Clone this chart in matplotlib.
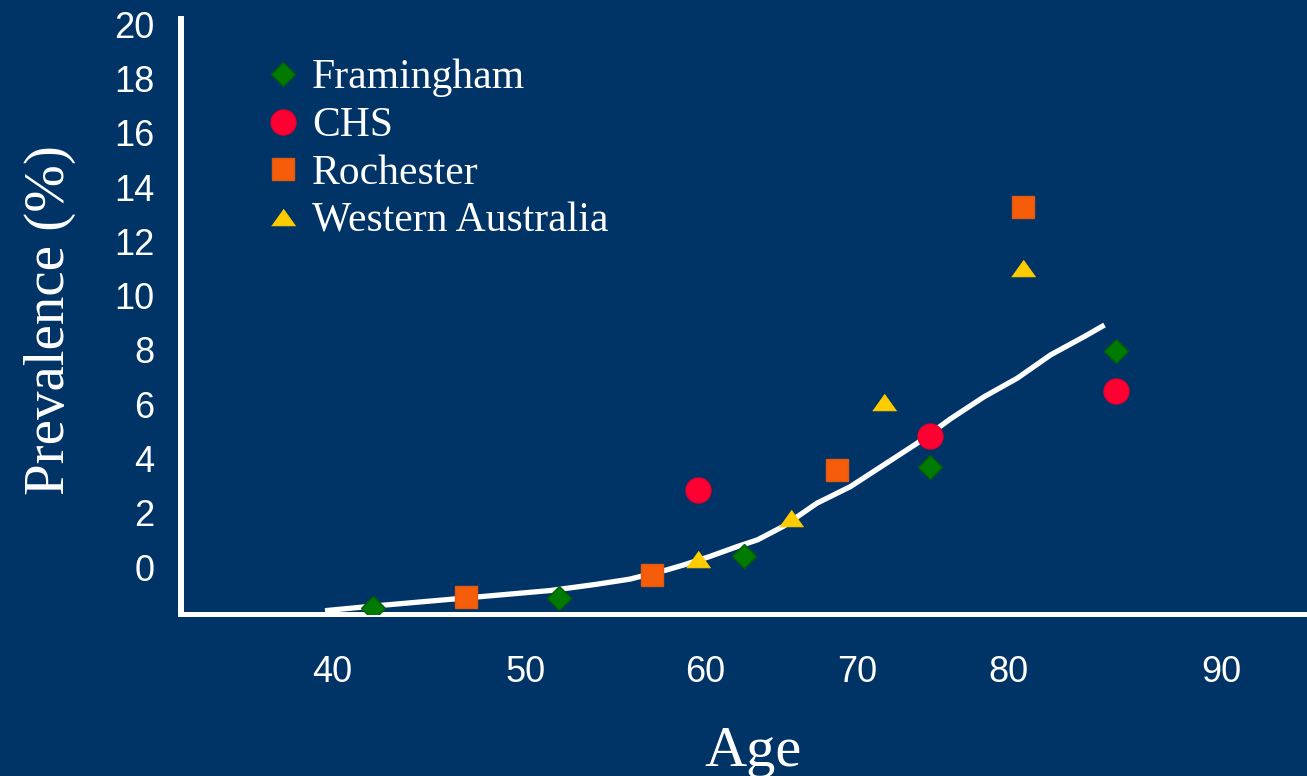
import matplotlib
matplotlib.use("Agg")
import matplotlib.pyplot as plt

# ages / prevalence (%)
fram_age = [42, 52, 62, 72, 82]
fram_prev = [-1.52, -1.13, 0.39, 3.68, 7.95]

chs_age = [59.5, 72, 82]
chs_prev = [2.83, 4.82, 6.5]

roch_age = [47, 57, 67, 77]
roch_prev = [-1.11, -0.29, 3.56, 13.28]

wa_age = [59.5, 64.5, 69.5, 77]
wa_prev = [0.28, 1.79, 6.09, 11.01]

fit_age = [39.4, 42.0, 47.0, 51.5, 54.0, 55.8, 57.8, 58.7, 60.1, 61.6, 62.7,
           64.1, 65.9, 67.7, 69.5, 71.3, 73.1, 74.9, 76.7, 78.5, 80.3, 81.4]
fit_prev = [-1.61, -1.44, -1.14, -0.87, -0.64, -0.45, -0.11, 0.07, 0.38, 0.75, 1.0,
            1.5, 2.35, 2.96, 3.76, 4.56, 5.46, 6.27, 6.96, 7.82, 8.49, 8.92]

# the slide's x labels sit a bit off their true ages
xtick_pos = [39.8, 50.2, 59.9, 68.1, 76.2, 87.7]
xtick_labels = ["40", "50", "60", "70", "80", "90"]
ytick_vals = list(range(0, 21, 2))

BG = "#003366"
tri = [(-1, -0.7), (1, -0.7), (0, 0.7)]

fig = plt.figure(figsize=(13.07, 7.76), dpi=100, facecolor=BG)
ax = fig.add_axes([181 / 1307, 1 - 613.5 / 776, 1 - 181 / 1307, 594.5 / 776])
ax.set_facecolor(BG)

ax.plot(fit_age, fit_prev, color="white", lw=3.8, zorder=2, solid_capstyle="butt")

ax.plot(fram_age, fram_prev, ls="none", marker="D", ms=12.5, color="#007a00",
        mec="#006000", mew=1, zorder=3, label="Framingham")
ax.plot(chs_age, chs_prev, ls="none", marker="o", ms=18, color="#ff0033",
        mec="#e8002e", mew=1, zorder=3, label="CHS")
ax.plot(roch_age, roch_prev, ls="none", marker="s", ms=16, color="#f55d0a",
        mec="#e05a10", mew=1, zorder=3, label="Rochester")
ax.plot(wa_age, wa_prev, ls="none", marker=tri, ms=17.3, color="#ffcc00",
        mec="#ffcc00", mew=0.5, zorder=3, label="Western Australia")

ax.set_xlim(31.64, 92.31)
ax.set_ylim(-1.714, 20.2)

ax.set_xticks(xtick_pos)
ax.set_xticklabels(xtick_labels)
ax.set_yticks(ytick_vals)
ax.tick_params(length=0, colors="white", labelsize=26)
ax.tick_params(axis="x", pad=30)
ax.tick_params(axis="y", pad=19)
for lab in ax.get_xticklabels() + ax.get_yticklabels():
    lab.set_fontfamily("Liberation Sans")

for s in ["top", "right"]:
    ax.spines[s].set_visible(False)
ax.spines["left"].set_color("white")
ax.spines["left"].set_linewidth(4.3)
ax.spines["bottom"].set_color("white")
ax.spines["bottom"].set_linewidth(3.6)

ax.set_ylabel("Prevalence (%)", family="Liberation Serif", fontsize=41, color="white")
ax.yaxis.set_label_coords(-0.0933, 0.4937)
ax.set_xlabel("Age", family="Liberation Serif", fontsize=42, color="white")
ax.xaxis.set_label_coords(0.508, -0.189)

leg = ax.legend(loc="upper left", bbox_to_anchor=(0.0719, 0.933), frameon=False,
                prop={"family": "Liberation Serif", "size": 30}, labelcolor="white",
                handlelength=1.0, handletextpad=0.2, labelspacing=0.225,
                borderpad=0, borderaxespad=0, numpoints=1)

fig.savefig("out.png", dpi=100, facecolor=BG)
